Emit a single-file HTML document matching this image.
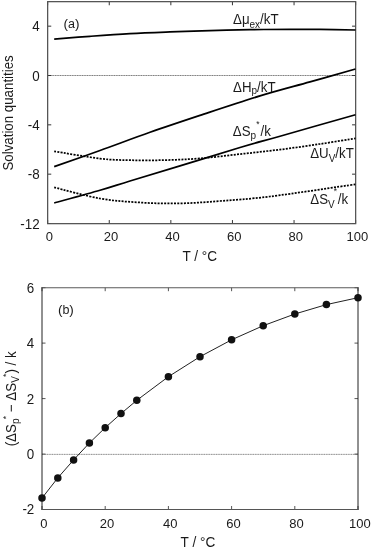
<!DOCTYPE html>
<html><head><meta charset="utf-8"><style>
html,body{margin:0;padding:0;background:#fff;width:372px;height:549px;overflow:hidden;font-family:"Liberation Sans",sans-serif;}
svg{display:block;will-change:transform;}
</style></head><body>
<svg width="372" height="549" viewBox="0 0 372 549">
<rect width="372" height="549" fill="#fff"/>
<line x1="47.65" y1="75.5" x2="355.65" y2="75.5" stroke="#c4c4c4" stroke-width="1"/>
<line x1="47.65" y1="75.5" x2="355.65" y2="75.5" stroke="#808080" stroke-width="1" stroke-dasharray="1.25 1.2"/>
<path d="M47.65,223.65v-3.6M47.65,1.65v3.6M109.25,223.65v-3.6M109.25,1.65v3.6M170.85,223.65v-3.6M170.85,1.65v3.6M232.45,223.65v-3.6M232.45,1.65v3.6M294.05,223.65v-3.6M294.05,1.65v3.6M355.65,223.65v-3.6M355.65,1.65v3.6M47.65,26.17h3.6M355.65,26.17h-3.6M47.65,75.50h3.6M355.65,75.50h-3.6M47.65,124.83h3.6M355.65,124.83h-3.6M47.65,174.16h3.6M355.65,174.16h-3.6M47.65,223.50h3.6M355.65,223.50h-3.6" stroke="#333" stroke-width="1" fill="none"/>
<rect x="47.65" y="1.65" width="308.0" height="222.0" stroke="#525252" stroke-width="1.25" fill="none"/>
<path d="M54.20,39.20C60.17,38.72 77.37,37.23 90.00,36.30C102.63,35.37 116.67,34.33 130.00,33.60C143.33,32.87 156.67,32.40 170.00,31.90C183.33,31.40 196.67,30.97 210.00,30.60C223.33,30.23 236.67,29.92 250.00,29.70C263.33,29.48 278.33,29.35 290.00,29.30C301.67,29.25 309.08,29.28 320.00,29.40C330.92,29.52 349.58,29.90 355.50,30.00" fill="none" stroke="#000" stroke-width="1.7"/>
<path d="M54.20,166.60C61.83,163.92 84.03,156.22 100.00,150.50C115.97,144.78 133.33,138.15 150.00,132.30C166.67,126.45 181.67,121.47 200.00,115.40C218.33,109.33 241.67,101.48 260.00,95.90C278.33,90.32 294.08,86.38 310.00,81.90C325.92,77.42 347.92,71.15 355.50,69.00" fill="none" stroke="#000" stroke-width="1.7"/>
<path d="M54.20,203.00C61.83,200.88 87.37,193.97 100.00,190.30C112.63,186.63 116.67,185.07 130.00,181.00C143.33,176.93 161.67,171.48 180.00,165.90C198.33,160.32 223.33,152.45 240.00,147.50C256.67,142.55 260.75,141.67 280.00,136.20C299.25,130.73 342.92,118.28 355.50,114.70" fill="none" stroke="#000" stroke-width="1.7"/>
<path d="M54.20,151.30C61.83,152.52 87.37,157.12 100.00,158.60C112.63,160.08 119.17,159.95 130.00,160.20C140.83,160.45 153.33,160.40 165.00,160.10C176.67,159.80 187.50,159.40 200.00,158.40C212.50,157.40 226.67,155.57 240.00,154.10C253.33,152.63 266.67,151.28 280.00,149.60C293.33,147.92 307.42,145.87 320.00,144.00C332.58,142.13 349.58,139.33 355.50,138.40" fill="none" stroke="#000" stroke-width="1.75" stroke-dasharray="2 1.28"/>
<path d="M54.20,187.40C61.83,189.25 85.70,195.98 100.00,198.50C114.30,201.02 126.67,201.68 140.00,202.50C153.33,203.32 166.67,203.65 180.00,203.40C193.33,203.15 205.00,202.15 220.00,201.00C235.00,199.85 247.42,199.28 270.00,196.50C292.58,193.72 341.25,186.33 355.50,184.30" fill="none" stroke="#000" stroke-width="1.75" stroke-dasharray="2 1.28"/>
<g font-family="Liberation Sans, sans-serif" font-size="13" fill="#1a1a1a">
<text transform="translate(39.6,31.37) scale(1,1.07)" x="0" y="0" text-anchor="end" font-size="13.4">4</text>
<text transform="translate(39.6,80.7) scale(1,1.07)" x="0" y="0" text-anchor="end" font-size="13.4">0</text>
<text transform="translate(39.6,130.03) scale(1,1.07)" x="0" y="0" text-anchor="end" font-size="13.4">-4</text>
<text transform="translate(39.6,179.36) scale(1,1.07)" x="0" y="0" text-anchor="end" font-size="13.4">-8</text>
<text transform="translate(39.6,228.7) scale(1,1.07)" x="0" y="0" text-anchor="end" font-size="13.4">-12</text>
<text transform="translate(49.35,241.2) scale(1,1)" x="0" y="0" text-anchor="middle">0</text>
<text transform="translate(110.95,241.2) scale(1,1)" x="0" y="0" text-anchor="middle">20</text>
<text transform="translate(172.55,241.2) scale(1,1)" x="0" y="0" text-anchor="middle">40</text>
<text transform="translate(234.15,241.2) scale(1,1)" x="0" y="0" text-anchor="middle">60</text>
<text transform="translate(295.75,241.2) scale(1,1)" x="0" y="0" text-anchor="middle">80</text>
<text transform="translate(357.35,241.2) scale(1,1)" x="0" y="0" text-anchor="middle">100</text>
<text transform="translate(199.8,261.2) scale(1,1.07)" x="0" y="0" text-anchor="middle" font-size="13.6">T / °C</text>
<text transform="translate(13.4,112.9) rotate(-90) scale(1,1.1)" x="0" y="0" text-anchor="middle" font-size="13.3">Solvation quantities</text>
<text x="63.6" y="28.0" font-size="12.5"><tspan font-size="13.5">(</tspan>a<tspan font-size="13.5">)</tspan></text>
<text transform="translate(233,23.6) scale(1,1.07)" x="0" y="0" font-size="13.3">Δμ<tspan font-size="10" dy="4.11">ex</tspan><tspan dy="-4.11" dx="0">/kT</tspan></text>
<text transform="translate(233,91.5) scale(1,1.07)" x="0" y="0" font-size="13.3">ΔH<tspan font-size="10" dy="2.62">p</tspan><tspan dy="-2.62" dx="0">/kT</tspan></text>
<text transform="translate(232.8,135.5) scale(1,1.07)" x="0" y="0" font-size="13.3">ΔS<tspan font-size="10" dy="2.8">p</tspan><tspan dy="-2.8" dx="4.4">/k</tspan></text>
<text transform="translate(257.8,127.4) scale(1,1.07)" x="0" y="0" font-size="8.5" text-anchor="middle">*</text>
<text transform="translate(310.2,157.7) scale(1,1.07)" x="0" y="0" font-size="13.3">ΔU<tspan font-size="10" dy="4.02">V</tspan><tspan dy="-4.02" dx="0">/kT</tspan></text>
<text transform="translate(310.3,203.6) scale(1,1.07)" x="0" y="0" font-size="13.3">ΔS<tspan font-size="10" dy="3.74">V</tspan><tspan dy="-3.74" dx="3.0">/k</tspan></text>
<text transform="translate(335.4,194.2) scale(1,1.07)" x="0" y="0" font-size="8.5" text-anchor="middle">*</text>
</g>
<line x1="42.0" y1="454.4" x2="358.0" y2="454.4" stroke="#d0d0d0" stroke-width="1"/>
<line x1="42.0" y1="454.4" x2="358.0" y2="454.4" stroke="#959595" stroke-width="1" stroke-dasharray="1.25 1.2"/>
<path d="M42.0,509.5v-3.5M42.0,287.7v3.5M105.2,509.5v-3.5M105.2,287.7v3.5M168.4,509.5v-3.5M168.4,287.7v3.5M231.6,509.5v-3.5M231.6,287.7v3.5M294.8,509.5v-3.5M294.8,287.7v3.5M358.0,509.5v-3.5M358.0,287.7v3.5M42.0,509.5h3.5M358.0,509.5h-3.5M42.0,454.1h3.5M358.0,454.1h-3.5M42.0,398.6h3.5M358.0,398.6h-3.5M42.0,343.1h3.5M358.0,343.1h-3.5M42.0,287.7h3.5M358.0,287.7h-3.5" stroke="#555" stroke-width="1" fill="none"/>
<path d="M42.0,287.2V510.0M358.0,287.2V510.0" stroke="#222" stroke-width="1" fill="none"/>
<path d="M41.5,287.75H358.5" stroke="#5a5a5a" stroke-width="1" fill="none"/>
<path d="M41.5,509.5H358.5" stroke="#555" stroke-width="1" fill="none"/>
<polyline points="42.0,498.1 57.8,477.9 73.6,459.9 89.4,443.0 105.2,427.7 121.0,413.6 136.8,400.3 168.4,376.7 200.0,356.7 231.6,339.8 263.2,325.7 294.8,314.0 326.4,304.6 358.0,297.7" fill="none" stroke="#222" stroke-width="1.0"/>
<circle cx="42.0" cy="498.1" r="3.75" fill="#111"/>
<circle cx="57.8" cy="477.9" r="3.75" fill="#111"/>
<circle cx="73.6" cy="459.9" r="3.75" fill="#111"/>
<circle cx="89.4" cy="443.0" r="3.75" fill="#111"/>
<circle cx="105.2" cy="427.7" r="3.75" fill="#111"/>
<circle cx="121.0" cy="413.6" r="3.75" fill="#111"/>
<circle cx="136.8" cy="400.3" r="3.75" fill="#111"/>
<circle cx="168.4" cy="376.7" r="3.75" fill="#111"/>
<circle cx="200.0" cy="356.7" r="3.75" fill="#111"/>
<circle cx="231.6" cy="339.8" r="3.75" fill="#111"/>
<circle cx="263.2" cy="325.7" r="3.75" fill="#111"/>
<circle cx="294.8" cy="314.0" r="3.75" fill="#111"/>
<circle cx="326.4" cy="304.6" r="3.75" fill="#111"/>
<circle cx="358.0" cy="297.7" r="3.75" fill="#111"/>
<g font-family="Liberation Sans, sans-serif" font-size="13" fill="#1a1a1a">
<text transform="translate(34.3,513.7) scale(1,1.07)" x="0" y="0" text-anchor="end" font-size="13.4">-2</text>
<text transform="translate(34.3,459.25) scale(1,1.07)" x="0" y="0" text-anchor="end" font-size="13.4">0</text>
<text transform="translate(34.3,403.8) scale(1,1.07)" x="0" y="0" text-anchor="end" font-size="13.4">2</text>
<text transform="translate(34.3,348.35) scale(1,1.07)" x="0" y="0" text-anchor="end" font-size="13.4">4</text>
<text transform="translate(34.3,292.9) scale(1,1.07)" x="0" y="0" text-anchor="end" font-size="13.4">6</text>
<text transform="translate(43.8,527.7) scale(1,1)" x="0" y="0" text-anchor="middle">0</text>
<text transform="translate(107.0,527.7) scale(1,1)" x="0" y="0" text-anchor="middle">20</text>
<text transform="translate(170.2,527.7) scale(1,1)" x="0" y="0" text-anchor="middle">40</text>
<text transform="translate(233.4,527.7) scale(1,1)" x="0" y="0" text-anchor="middle">60</text>
<text transform="translate(296.6,527.7) scale(1,1)" x="0" y="0" text-anchor="middle">80</text>
<text transform="translate(359.8,527.7) scale(1,1)" x="0" y="0" text-anchor="middle">100</text>
<text transform="translate(197.9,547.1) scale(1,1.07)" x="0" y="0" text-anchor="middle" font-size="13.6">T / °C</text>
<text x="57.9" y="313.8" font-size="12.5"><tspan font-size="13.5">(</tspan>b<tspan font-size="13.5">)</tspan></text>
<text transform="translate(15.9,398.8) rotate(-90) scale(1,1.1)" x="0" y="0" text-anchor="middle" font-size="13.4">(ΔS<tspan font-size="10" dy="2.9">p</tspan><tspan font-size="8.5" dy="-8.9" dx="-0.8">*</tspan><tspan dy="6.0"> − ΔS</tspan><tspan font-size="10" dy="2.9">V</tspan><tspan font-size="8.5" dy="-8.9" dx="-0.8">*</tspan><tspan dy="6.0">) / k</tspan></text>
</g>
</svg>
</body></html>
